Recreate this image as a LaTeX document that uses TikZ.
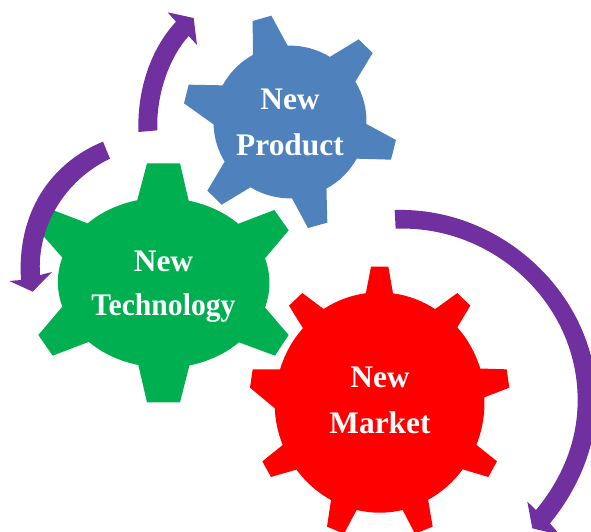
\documentclass[tikz,border=0pt]{standalone}
\usepackage{fontspec}
\setmainfont{Liberation Serif}
\definecolor{gearblue}{HTML}{4F81BD}
\definecolor{geargreen}{HTML}{00B050}
\definecolor{gearred}{HTML}{FF0000}
\definecolor{arrowpurple}{HTML}{7030A0}
\tikzset{
  zoomunits/.style={x=0.33333pt,y=-0.33333pt},
  gearlabel/.style={text=white,font=\fontsize{31.4}{46}\selectfont\bfseries,align=center,inner sep=0pt},
  sweep/.style={fill=arrowpurple,draw=none}
}
\begin{document}
\begin{tikzpicture}
\useasboundingbox (0pt,0pt) rectangle (591pt,-531pt);
% blue gear
\begin{scope}[zoomunits]
\fill[gearblue] (758,63) -- (814,47) -- (863,137)
  arc[start angle=91.8,end angle=58.4,radius=76pt] -- (1076,118) -- (1118,159) -- (1066,245)
  arc[start angle=31.5,end angle=-2,radius=76pt] -- (1188,420) -- (1173,479) -- (1070,476)
  arc[start angle=-29,end angle=-61.5,radius=76pt] -- (982,668) -- (924,684) -- (876,595)
  arc[start angle=-88.5,end angle=-121.3,radius=76pt] -- (665,614) -- (622,572) -- (674,485)
  arc[start angle=-148.5,end angle=-178.2,radius=76pt] -- (552,310) -- (566,254) -- (668,256)
  arc[start angle=151.6,end angle=118.8,radius=76pt] -- cycle;
\end{scope}
% green gear
\begin{scope}[zoomunits,shift={(0pt,-150pt)}]
\fill[geargreen] (441,40) -- (540,40) -- (566,152)
  arc[start angle=76,end angle=44.3,x radius=104.67pt,y radius=85pt] -- (823,180) -- (866,241) -- (795,325)
  arc[start angle=16.8,end angle=-16.8,x radius=104.67pt,y radius=85pt] -- (866,555) -- (825,617) -- (717,577)
  arc[start angle=-44.3,end angle=-76,x radius=104.67pt,y radius=85pt] -- (540,757) -- (441,757) -- (415,645)
  arc[start angle=-104,end angle=-135.7,x radius=104.67pt,y radius=85pt] -- (158,617) -- (115,555) -- (187,470)
  arc[start angle=-163.2,end angle=-196.8,x radius=104.67pt,y radius=85pt] -- (115,241) -- (158,180) -- (263,220)
  arc[start angle=135.7,end angle=104,x radius=104.67pt,y radius=85pt] -- cycle;
\end{scope}
% red gear
\begin{scope}[zoomunits,shift={(230pt,-200pt)}]
\fill[gearred] (423,200) -- (475,200) -- (489,280)
  arc[start angle=82.7,end angle=58,x radius=104.67pt,y radius=109.67pt] -- (682,279) -- (721,317) -- (682,382)
  arc[start angle=42.8,end angle=17.7,x radius=104.67pt,y radius=109.67pt] -- (830,508) -- (838,563) -- (763,592)
  arc[start angle=2.8,end angle=-22.6,x radius=104.67pt,y radius=109.67pt] -- (801,784) -- (775,831) -- (698,808)
  arc[start angle=-37.5,end angle=-62.4,x radius=104.67pt,y radius=109.67pt] -- (608,980) -- (555,1001) -- (518,930)
  arc[start angle=-77.3,end angle=-102.7,x radius=104.67pt,y radius=109.67pt] -- (342,1001) -- (291,980) -- (303,900)
  arc[start angle=-117.6,end angle=-142.5,x radius=104.67pt,y radius=109.67pt] -- (123,831) -- (97,784) -- (158,735)
  arc[start angle=-157.4,end angle=-177.2,x radius=104.67pt,y radius=109.67pt] -- (60,563) -- (68,508) -- (150,508)
  arc[start angle=162.3,end angle=137.2,x radius=104.67pt,y radius=109.67pt] -- (177,317) -- (217,279) -- (281,327)
  arc[start angle=122,end angle=97.3,x radius=104.67pt,y radius=109.67pt] -- cycle;
\end{scope}
% purple arrows
\begin{scope}[zoomunits]
\fill[sweep] (415,396) .. controls (412,270) and (450,150) .. (528,65)
  -- (503,37) -- (581,54) -- (591,135) -- (566,108)
  .. controls (510,170) and (468,280) .. (472,391) -- cycle;
\fill[sweep] (309,425) .. controls (150,490) and (50,640) .. (63,840)
  -- (28,843) -- (98,875) -- (156,816) -- (120,825)
  .. controls (110,680) and (195,540) .. (330,476) -- cycle;
\end{scope}
\begin{scope}[zoomunits,shift={(230pt,-200pt)}]
\fill[sweep] (494,30) .. controls (820,20) and (1100,290) .. (1100,600)
  .. controls (1100,730) and (1050,860) .. (960,970)
  -- (990,1005) -- (907,985) -- (892,905) -- (918,930)
  .. controls (1000,830) and (1043,720) .. (1043,600)
  .. controls (1043,310) and (790,75) .. (497,86) -- cycle;
\end{scope}
% labels
\node[gearlabel] (product) at (290pt,-122pt) {New\\Product};
\node[gearlabel,font=\fontsize{31.4}{44}\selectfont\bfseries] (technology) at (163.5pt,-287pt) {New\\\scalebox{0.945}[1]{Technology}};
\node[gearlabel,font=\fontsize{31.4}{45.3}\selectfont\bfseries] (market) at (380pt,-400.5pt) {New\\Market};
\end{tikzpicture}
\end{document}
